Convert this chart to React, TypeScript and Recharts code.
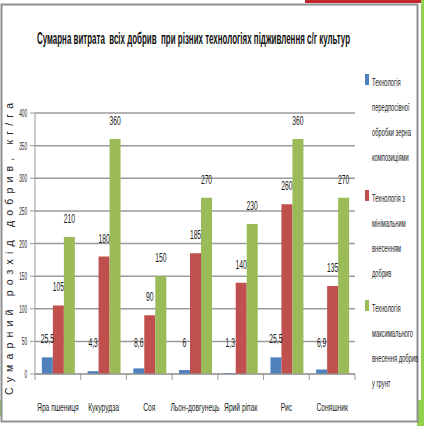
import React from "react";
import { BarChart, Bar, XAxis, YAxis, CartesianGrid, LabelList } from "recharts";

const crops = [
  "Яра пшениця",
  "Кукурудза",
  "Соя",
  "Льон-довгунець",
  "Ярий ріпак",
  "Рис",
  "Соняшник",
];
const presowing = [25.5, 4.3, 8.6, 6, 1.3, 25.5, 6.9];
const minimal = [105, 180, 90, 185, 140, 260, 135];
const maximal = [210, 360, 150, 270, 230, 360, 270];
const yTicks = [0, 50, 100, 150, 200, 250, 300, 350, 400];

const legendLines = [
  ["Технологія", "передпосівної", "обробки зерна", "композиціями"],
  ["Технологія з", "мінімальним", "внесенням", "добрив"],
  ["Технологія", "максимального", "внесення добрив", "у грунт"],
];
const COLORS = ["#4F81BD", "#C0504D", "#9BBB59"];
const TITLE = "Сумарна витрата  всіх добрив  при різних технологіях підживлення с/г культур";
const Y_LABEL = "Сумарний розхід добрив, кг/га";

const FONT = "'Liberation Sans', Arial, sans-serif";
const GRID = "#9a9a9a";

const data = crops.map((name, i) => ({
  name,
  presowing: presowing[i],
  minimal: minimal[i],
  maximal: maximal[i],
}));

const fmt = (v: number) => String(v).replace(".", ",");

// narrow text: the source chart is squeezed horizontally
function Narrow({ x, y, size, sx, anchor = "middle", children, weight }: any) {
  return (
    <text
      transform={`translate(${x},${y}) scale(${sx},1)`}
      textAnchor={anchor}
      fontSize={size}
      fontFamily={FONT}
      fontWeight={weight}
      fill="#1a1a1a"
    >
      {children}
    </text>
  );
}

function CropTick(props: any) {
  const { x, y, payload, index } = props;
  const half = payload.offset || 320 / 14;
  return (
    <g>
      <line x1={x - half} x2={x - half} y1={y} y2={y + 6} stroke={GRID} />
      {index === crops.length - 1 && (
        <line x1={x + half} x2={x + half} y1={y} y2={y + 6} stroke={GRID} />
      )}
      <Narrow x={x} y={y + 37} size={11.5} sx={0.58}>
        {payload.value}
      </Narrow>
    </g>
  );
}

function ValueTick(props: any) {
  const { x, y, payload } = props;
  return (
    <Narrow x={x} y={y + 4} size={11} sx={0.42} anchor="end">
      {payload.value}
    </Narrow>
  );
}

function BarValue(props: any) {
  const { x, y, width, height, value } = props;
  const ly = Math.min(y - 14, y + height - 27);
  return (
    <Narrow x={x + width / 2} y={ly} size={13.5} sx={0.5}>
      {fmt(value)}
    </Narrow>
  );
}

export default function App() {
  return (
    <div
      style={{
        position: "absolute",
        left: 0,
        top: 0,
        width: 424,
        height: 426,
        background: "#fff",
      }}
    >
      <svg width={424} height={426} style={{ position: "absolute", left: 0, top: 0 }}>
        <rect x={305} y={0} width={117} height={3} fill="#c0262b" />
        <rect x={421} y={0} width={3} height={426} fill="#92d050" />
        <rect x={417} y={400} width={7} height={26} fill="#92d050" />
        <rect x={0} y={400} width={5} height={16} fill="#92d050" />
        <rect x={1.5} y={4.5} width={416} height={417} fill="#fff" stroke="#8f8f8f" strokeWidth={2} />
      </svg>
      <div style={{ position: "absolute", left: 0, top: 0 }}>
        <BarChart
          width={424}
          height={426}
          data={data}
          margin={{ top: 113, right: 69, left: 8, bottom: 22 }}
          barCategoryGap="15%"
          barGap={0}
        >
          <CartesianGrid vertical={false} stroke={GRID} strokeWidth={1.5} />
          <XAxis
            dataKey="name"
            interval={0}
            height={30}
            tickSize={0}
            tickMargin={0}
            tickLine={false}
            axisLine={{ stroke: GRID }}
            tick={<CropTick />}
          />
          <YAxis
            width={27}
            domain={[0, 400]}
            ticks={yTicks}
            interval={0}
            tickSize={5}
            tickMargin={3}
            tickLine={{ stroke: GRID }}
            axisLine={{ stroke: GRID }}
            tick={<ValueTick />}
          />
          <Bar dataKey="presowing" fill={COLORS[0]} isAnimationActive={false}>
            <LabelList dataKey="presowing" content={<BarValue />} />
          </Bar>
          <Bar dataKey="minimal" fill={COLORS[1]} isAnimationActive={false}>
            <LabelList dataKey="minimal" content={<BarValue />} />
          </Bar>
          <Bar dataKey="maximal" fill={COLORS[2]} isAnimationActive={false}>
            <LabelList dataKey="maximal" content={<BarValue />} />
          </Bar>
        </BarChart>
      </div>
      <svg
        width={424}
        height={426}
        style={{ position: "absolute", left: 0, top: 0, pointerEvents: "none" }}
      >
        <text
          transform="translate(37,44) scale(0.45,1)"
          fontSize={16}
          fontWeight="bold"
          fontFamily={FONT}
          fill="#111"
          textLength={313 / 0.45}
          lengthAdjust="spacingAndGlyphs"
          style={{ whiteSpace: "pre" }}
        >
          {TITLE}
        </text>
        <text
          transform="translate(13,395) rotate(-90)"
          fontSize={10.5}
          fontFamily={FONT}
          fill="#222"
          textLength={292}
          lengthAdjust="spacing"
        >
          {Y_LABEL}
        </text>
        {legendLines.map((lines, s) => {
          const top = [86, 202, 312][s];
          return (
            <g key={s}>
              <rect x={365} y={top - 12} width={4} height={11} fill={COLORS[s]} />
              {lines.map((ln, i) => (
                <Narrow key={i} x={372} y={top + i * 25} size={10.5} sx={0.55} anchor="start">
                  {ln}
                </Narrow>
              ))}
            </g>
          );
        })}
      </svg>
    </div>
  );
}
